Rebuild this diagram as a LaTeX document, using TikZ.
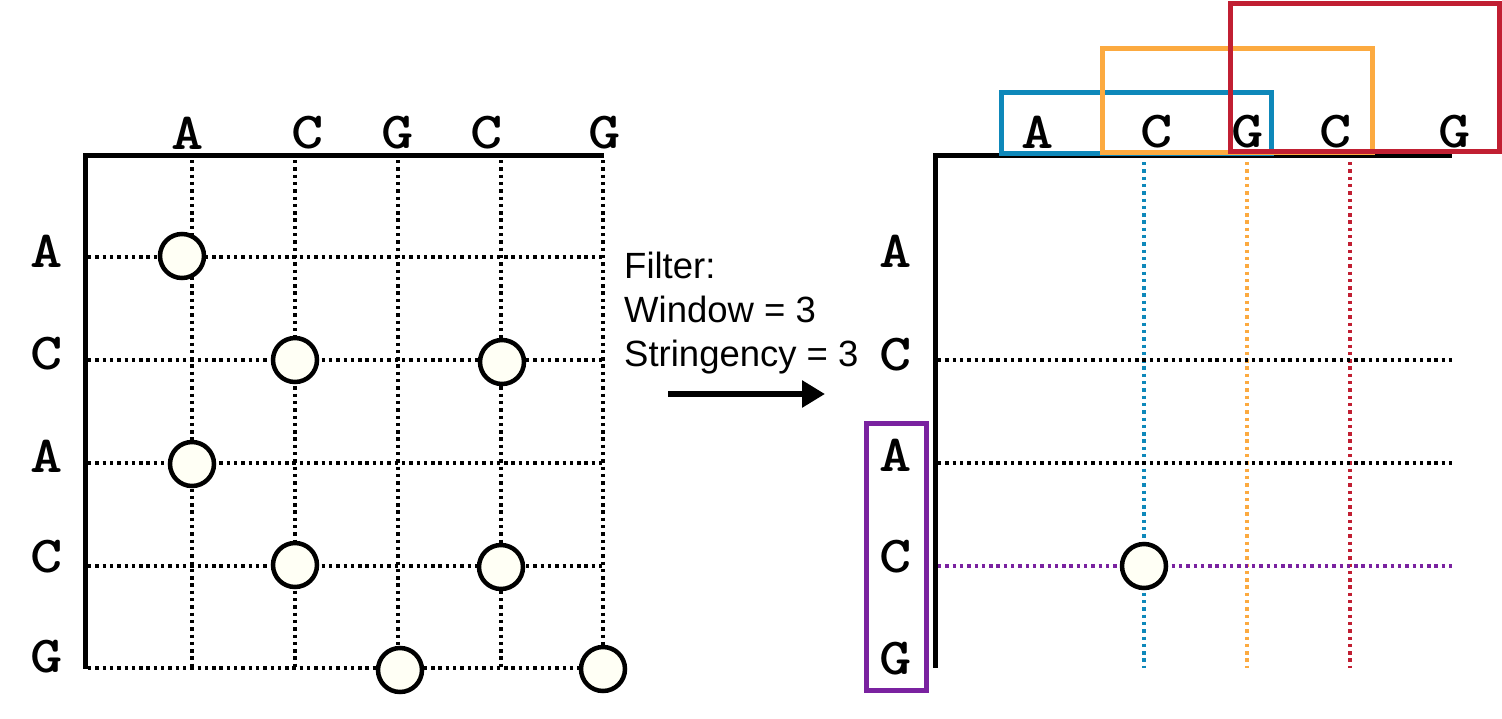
\documentclass[tikz,border=0pt]{standalone}
\usepackage{fontspec}
\usepackage{graphicx}
\newfontfamily\sansfnt{Liberation Sans}
\usetikzlibrary{arrows.meta}
\definecolor{cblue}{RGB}{14,136,186}
\definecolor{corange}{RGB}{252,170,64}
\definecolor{cred}{RGB}{193,31,50}
\definecolor{cpurple}{RGB}{122,34,160}
\definecolor{cream}{RGB}{255,255,245}
\newcommand\ml[1]{\scalebox{1.18}[1]{\fontsize{52}{52}\selectfont\ttfamily\bfseries #1}}
\begin{document}
\begin{tikzpicture}[x=1pt,y=-1pt,
  axis/.style={line width=5pt},
  gridl/.style={line width=3.4pt, dash pattern=on 3.4pt off 3.9pt},
  dotc/.style={circle, draw, line width=4.5pt, fill=cream, minimum size=44pt, inner sep=0pt},
  lab/.style={inner sep=0pt},
  ftxt/.style={anchor=base west, inner sep=0pt, font=\sansfnt\fontsize{36.5}{44}\selectfont},
  win/.style={line width=5pt}]
\useasboundingbox (0,0) rectangle (1502,718);

% ---------- left matrix ----------
\foreach \x in {192,295,398,501,603}
  \draw[gridl] (\x,160) -- (\x,668);
\foreach \y in {257,360,463,566,668}
  \draw[gridl] (88,\y) -- (603,\y);
\draw[axis] (83,155) -- (604,155);
\draw[axis] (85,153) -- (85,669);

\node[lab] (lc1) at (188,133) {\ml{A}};
\node[lab] (lc2) at (308,133) {\ml{C}};
\node[lab] (lc3) at (398,133) {\ml{G}};
\node[lab] (lc4) at (487,133) {\ml{C}};
\node[lab] (lc5) at (605,133) {\ml{G}};
\node[lab] (lr1) at (47,251) {\ml{A}};
\node[lab] (lr2) at (47,354) {\ml{C}};
\node[lab] (lr3) at (47,456) {\ml{A}};
\node[lab] (lr4) at (47,557) {\ml{C}};
\node[lab] (lr5) at (47,657) {\ml{G}};

\node[dotc] (d1) at (182,256) {};
\node[dotc] (d2) at (295,360) {};
\node[dotc] (d3) at (502,362) {};
\node[dotc] (d4) at (192,464) {};
\node[dotc] (d5) at (295,565) {};
\node[dotc] (d6) at (501,567) {};
\node[dotc] (d7) at (400,670) {};
\node[dotc] (d8) at (603,669) {};

% ---------- filter text and arrow ----------
\node[ftxt] (f1) at (624,278) {Filter:};
\node[ftxt] (f2) at (624,322) {Window = 3};
\node[ftxt] (f3) at (624,366) {Stringency = 3};
\coordinate (as) at (668,394);
\coordinate (ae) at (825,394);
\draw[line width=6pt, -{Triangle[length=23pt,width=26pt]}] (as) -- (ae);

% ---------- right matrix ----------
\draw[gridl, cblue] (1144,162) -- (1144,668);
\draw[gridl, corange] (1247,162) -- (1247,668);
\draw[gridl, cred] (1350,162) -- (1350,668);
\draw[gridl] (938,360) -- (1452,360);
\draw[gridl] (938,463) -- (1452,463);
\draw[gridl, cpurple] (938,566) -- (1452,566);
\draw[axis] (933,155) -- (1452,155);
\draw[axis] (935,153) -- (935,668);

\node[lab] (rc1) at (1038,132) {\ml{A}};
\node[lab] (rc2) at (1157,132) {\ml{C}};
\node[lab] (rc3) at (1248,132) {\ml{G}};
\node[lab] (rc4) at (1336,132) {\ml{C}};
\node[lab] (rc5) at (1455,132) {\ml{G}};
\node[lab] (rr1) at (896,251) {\ml{A}};
\node[lab] (rr2) at (896,355) {\ml{C}};
\node[lab] (rr3) at (896,455) {\ml{A}};
\node[lab] (rr4) at (896,557) {\ml{C}};
\node[lab] (rr5) at (896,659) {\ml{G}};

\node[dotc] (rd1) at (1144,566) {};

% ---------- windows ----------
\draw[win, cblue] (1001.5,92.5) rectangle (1271.5,153);
\draw[win, corange] (1102.5,48.5) rectangle (1372.5,152.5);
\draw[win, cred] (1230.5,3) rectangle (1499,151.5);
\draw[win, cpurple] (866.5,423.5) rectangle (926.5,690.5);
\end{tikzpicture}
\end{document}
